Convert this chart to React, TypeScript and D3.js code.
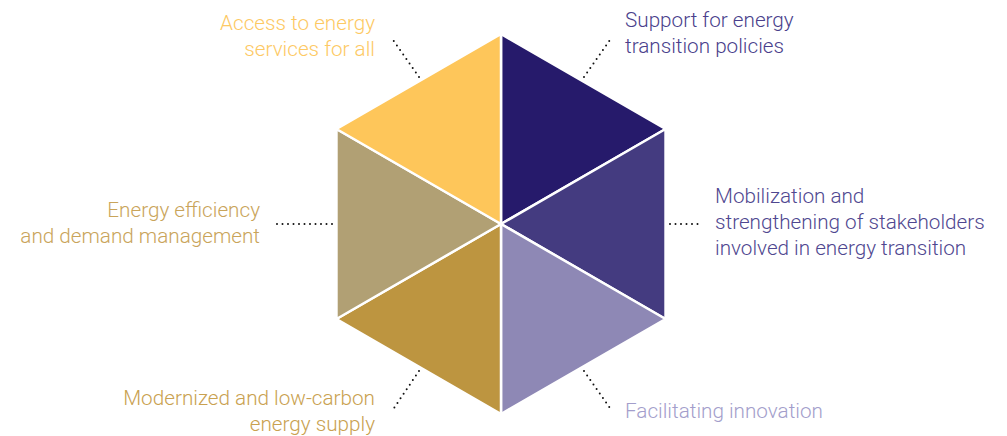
import React from "react";
import * as d3 from "d3";

const segmentNames = [
  "Support for energy transition policies",
  "Mobilization and strengthening of stakeholders involved in energy transition",
  "Facilitating innovation",
  "Modernized and low-carbon energy supply",
  "Energy efficiency and demand management",
  "Access to energy services for all",
];
const segmentValues = [1, 1, 1, 1, 1, 1];
const fillColors = ["#261a6b", "#443b80", "#8e88b5", "#bd9540", "#b1a074", "#fec65a"];
const labelColors = ["#4a3f8c", "#4f4790", "#a39ecb", "#c9a150", "#c9a45a", "#fdc964"];
const labelLines = [
  ["Support for energy", "transition policies"],
  ["Mobilization and", "strengthening of stakeholders", "involved in energy transition"],
  ["Facilitating innovation"],
  ["Modernized and low-carbon", "energy supply"],
  ["Energy efficiency", "and demand management"],
  ["Access to energy", "services for all"],
];

const W = 1007;
const H = 436;
const cx = 501;
const cy = 224;
const R = 190;

const labelPos: { x: number; y: number; anchor: "start" | "end" }[] = [
  { x: 625, y: 27, anchor: "start" },
  { x: 715, y: 203, anchor: "start" },
  { x: 625, y: 418, anchor: "start" },
  { x: 375, y: 405, anchor: "end" },
  { x: 260, y: 217, anchor: "end" },
  { x: 375, y: 30, anchor: "end" },
];
const leaders: [number, number, number, number][] = [
  [584, 77, 612, 37],
  [670, 224, 702, 224],
  [584, 371, 612, 411],
  [419, 371, 392, 411],
  [277, 224, 335, 224],
  [419, 77, 391, 37],
];

export default function App() {
  const pie = d3.pie<number>().sort(null)(segmentValues);
  const pt = (a: number): [number, number] => [cx + R * Math.sin(a), cy - R * Math.cos(a)];
  const line = d3.line();
  const lh = 26;
  return (
    <svg
      width={W}
      height={H}
      style={{ position: "absolute", left: 0, top: 0, background: "#fff" }}
      fontFamily="Roboto, sans-serif"
    >
      {pie.map((p, i) => (
        <path
          key={i}
          d={line([[cx, cy], pt(p.startAngle), pt(p.endAngle)])! + "Z"}
          fill={fillColors[i]}
          stroke="#fff"
          strokeWidth={2.5}
          strokeLinejoin="round"
        >
          <title>{segmentNames[i]}</title>
        </path>
      ))}
      {leaders.map((l, i) => (
        <line
          key={i}
          x1={l[0]}
          y1={l[1]}
          x2={l[2]}
          y2={l[3]}
          stroke="#111"
          strokeWidth={2}
          strokeLinecap="round"
          strokeDasharray="0 5.5"
        />
      ))}
      {labelLines.map((ls, i) => (
        <text
          key={i}
          x={labelPos[i].x}
          y={labelPos[i].y}
          textAnchor={labelPos[i].anchor}
          fill={labelColors[i]}
          fontSize={20.7}
          fontWeight={300}
        >
          {ls.map((t, j) => (
            <tspan key={j} x={labelPos[i].x} y={labelPos[i].y + j * lh}>
              {t}
            </tspan>
          ))}
        </text>
      ))}
    </svg>
  );
}
